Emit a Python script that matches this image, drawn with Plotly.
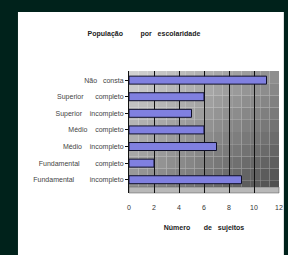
import plotly.graph_objects as go

NB = "\u00a0"
categories = [
    "Fundamental" + NB*8 + "incompleto",
    "Fundamental" + NB*8 + "completo",
    "Médio" + NB*4 + "incompleto",
    "Médio" + NB*4 + "completo",
    "Superior" + NB*4 + "incompleto",
    "Superior" + NB*6 + "completo",
    "Não" + NB*3 + "consta",
]
values = [9, 2, 7, 6, 5, 6, 11]
x_ticks = [0, 2, 4, 6, 8, 10, 12]

W, H = 288, 255
L, R, T, B = 129, 5, 71, 62

shapes = [
    dict(type="rect", xref="paper", yref="paper",
         x0=-(L-15)/(W-L-R), x1=1 + R/(W-L-R),
         y0=-B/(H-T-B), y1=1 + (T-12)/(H-T-B),
         fillcolor="white", line=dict(width=0), layer="below"),
]
# diagonal gray gradient backdrop (light top-left -> dark bottom-right)
NX, NY = 16, 10
for i in range(NX):
    for j in range(NY):
        u = (i + 0.5) / NX
        v = (j + 0.5) / NY  # from top
        t = (u + v) / 2
        g = int(215 - t * 140)
        shapes.append(dict(type="rect", xref="paper", yref="paper",
                           x0=i / NX, x1=(i + 1) / NX,
                           y0=1 - (j + 1) / NY, y1=1 - j / NY,
                           fillcolor=f"rgb({g},{g},{g})",
                           line=dict(width=0), layer="below"))
# floor strip
shapes.append(dict(type="rect", xref="paper", yref="paper",
                   x0=0, x1=1, y0=0, y1=6/(H-T-B),
                   fillcolor="#b8b8b8", line=dict(color="#555555", width=0.5), layer="below"))

fig = go.Figure()
fig.add_trace(go.Bar(
    y=categories, x=values, orientation="h", width=0.48,
    marker=dict(color="#8080e0", line=dict(color="#10102a", width=1)),
))

fig.update_layout(
    width=W, height=H, margin=dict(l=L, r=R, t=T, b=B),
    paper_bgcolor="#00221b", plot_bgcolor="rgba(0,0,0,0)",
    showlegend=False,
    font=dict(family="Liberation Sans, Arial", size=7, color="#444444"),
    title=dict(text="<b>População" + NB*9 + "por" + NB*3 + "escolaridade</b>",
               x=0.5, xanchor="center", y=1 - 34/H, yanchor="middle",
               font=dict(size=7, color="#222222")),
    shapes=shapes,
    xaxis=dict(range=[0, 12], tickvals=x_ticks, showgrid=True, gridcolor="#111111",
               gridwidth=1, zeroline=False, ticks="outside", ticklen=8,
               tickcolor="rgba(0,0,0,0)", showline=False,
               tickfont=dict(size=7, color="#333333"),
               title=dict(text="<b>Número" + NB*7 + "de" + NB*3 + "sujeitos</b>",
                          font=dict(size=7, color="#222222"), standoff=14)),
    yaxis=dict(showline=True, linecolor="#111111", ticks="outside", ticklen=3,
               tickcolor="#111111", tickfont=dict(size=7, color="#444444"),
               range=[-0.8, 6.55]),
)

fig.write_html("out.html", config={"displayModeBar": False},
               post_script="document.body.style.margin='0';document.body.style.overflow='hidden';")
